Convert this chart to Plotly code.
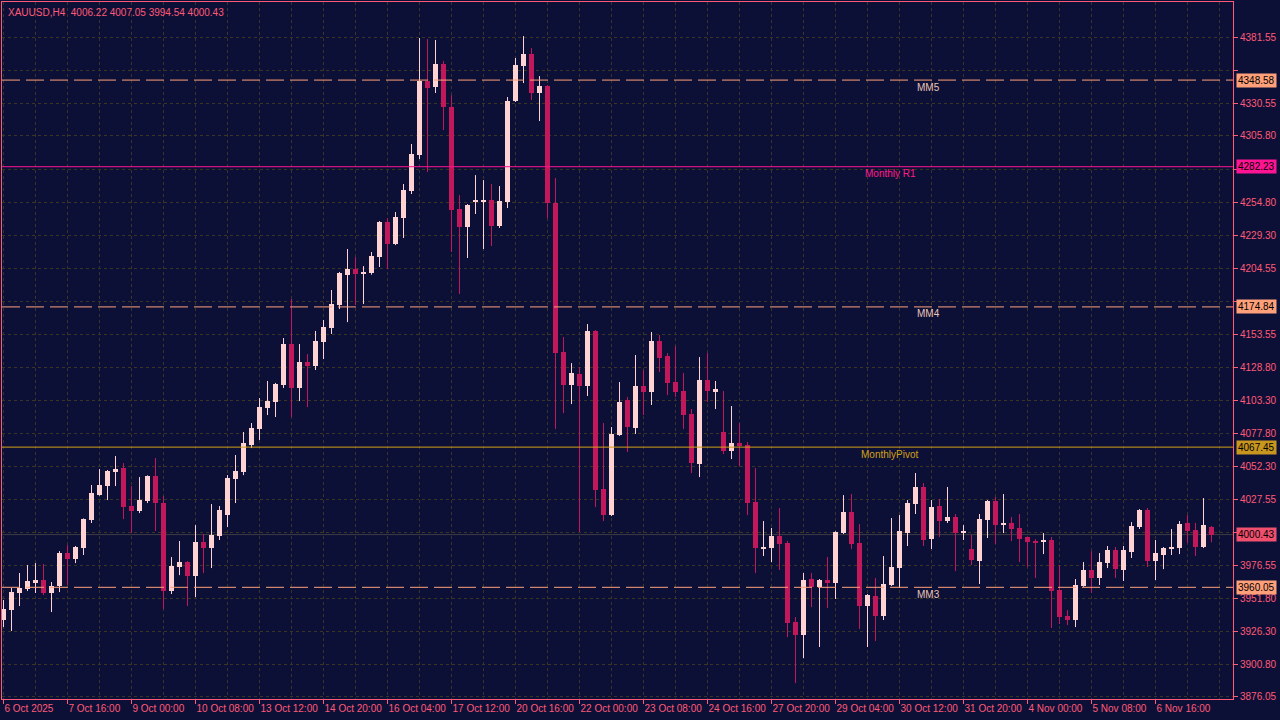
import plotly.graph_objects as go

# ---------------- data ----------------
symbol = "XAUUSD,H4"

opens = [3935.0, 3942.6, 3955.7, 3958.7, 3964.1, 3965.6, 3955.7, 3961.0, 3986.3, 3981.7,
         3990.1, 4011.6, 4030.7, 4037.6, 4048.3, 4051.4, 4022.3, 4018.5, 4026.1, 4045.3,
         4024.6, 3957.2, 3975.6, 3979.4, 3968.7, 3994.7, 3990.1, 3999.3, 4015.4, 4043.0,
         4048.3, 4069.0, 4081.3, 4097.4, 4102.0, 4115.0, 4146.4, 4112.7, 4132.6, 4129.5,
         4147.9, 4158.7, 4176.3, 4199.2, 4203.8, 4200.0, 4200.8, 4213.0, 4239.8, 4223.0,
         4242.9, 4263.6, 4291.2, 4347.9, 4343.2, 4360.9, 4327.9, 4249.8, 4236.0, 4255.9,
         4255.9, 4256.7, 4236.8, 4255.2, 4332.5, 4359.3, 4368.5, 4338.7, 4344.0, 4254.4,
         4140.3, 4115.0, 4123.4, 4114.2, 4156.4, 4035.3, 4015.4, 4076.7, 4103.5, 4082.1,
         4114.2, 4109.6, 4148.7, 4137.2, 4117.3, 4110.4, 4092.8, 4054.5, 4118.8, 4110.4,
         4079.0, 4064.4, 4070.6, 4069.0, 4025.4, 3990.1, 3990.1, 3999.3, 3994.0, 3933.4,
         3923.5, 3966.4, 3960.3, 3965.6, 3963.3, 4001.6, 4017.7, 3994.0, 3945.7, 3953.4,
         3938.0, 3961.8, 3974.8, 4001.6, 4023.8, 4036.9, 3997.0, 4022.3, 4010.8, 4013.9,
         4001.6, 3989.4, 3980.2, 4011.6, 4026.1, 4007.7, 4009.3, 4005.5, 3998.6, 3995.5,
         3994.7, 3996.3, 3958.0, 3938.0, 3935.0, 3961.0, 3973.3, 3967.2, 3978.6, 3988.6,
         3973.3, 3987.1, 4006.2, 4019.2, 3980.2, 3984.8, 3989.4, 3990.1, 4009.3, 4004.0,
         3990.9, 4006.22]

highs = [3950.3, 3959.5, 3971.0, 3977.1, 3978.6, 3977.9, 3964.1, 3987.8, 3992.4, 3991.7,
         4012.8, 4038.4, 4050.6, 4049.9, 4060.6, 4055.2, 4037.6, 4044.5, 4045.8, 4059.1,
         4030.0, 3983.2, 3995.5, 3980.2, 4007.7, 4000.9, 4023.8, 4022.3, 4046.0, 4061.4,
         4079.0, 4085.9, 4105.0, 4118.1, 4116.6, 4151.0, 4180.9, 4146.4, 4138.7, 4156.4,
         4164.8, 4187.8, 4201.6, 4219.2, 4213.0, 4206.1, 4216.9, 4240.6, 4242.9, 4247.5,
         4269.0, 4299.6, 4380.8, 4380.0, 4379.3, 4363.2, 4337.1, 4260.5, 4253.6, 4275.8,
         4272.0, 4269.0, 4267.4, 4335.6, 4365.5, 4382.3, 4373.1, 4351.7, 4344.8, 4273.6,
         4151.8, 4131.8, 4128.8, 4161.7, 4157.1, 4085.9, 4082.8, 4117.3, 4105.8, 4138.0,
         4126.5, 4155.6, 4153.3, 4139.5, 4144.9, 4124.2, 4096.6, 4136.4, 4139.5, 4118.1,
         4110.4, 4098.9, 4085.9, 4071.3, 4051.4, 4010.8, 4005.5, 4020.8, 3995.5, 3937.3,
         3971.0, 3971.0, 3966.4, 3983.2, 4003.0, 4030.7, 4031.5, 4008.5, 3954.9, 3967.2,
         3984.0, 4013.1, 4015.4, 4026.9, 4047.6, 4039.9, 4026.9, 4027.7, 4036.9, 4016.2,
         4007.7, 4000.1, 4016.2, 4026.9, 4029.2, 4031.5, 4013.9, 4016.2, 3998.9, 3997.0,
         4001.6, 3998.6, 3977.1, 3942.6, 3966.4, 3979.4, 3987.8, 3986.3, 3991.7, 3990.9,
         3991.7, 4010.0, 4020.0, 4020.8, 3996.3, 3990.9, 4004.7, 4010.8, 4015.4, 4009.3,
         4028.4, 4007.05]

lows = [3929.6, 3926.6, 3945.7, 3957.2, 3955.7, 3954.1, 3941.1, 3956.4, 3961.8, 3978.6,
        3984.8, 4009.3, 4030.2, 4026.9, 4037.6, 4012.3, 4001.6, 4016.9, 4024.6, 4003.2,
        3943.4, 3954.9, 3969.4, 3945.7, 3952.6, 3971.0, 3974.8, 3996.3, 4006.2, 4024.6,
        4046.0, 4066.7, 4072.9, 4092.0, 4090.5, 4112.7, 4090.5, 4102.7, 4098.1, 4126.5,
        4134.9, 4154.1, 4173.2, 4163.2, 4176.3, 4177.0, 4199.5, 4205.4, 4203.8, 4222.2,
        4227.6, 4261.3, 4288.1, 4278.1, 4338.7, 4310.3, 4216.9, 4184.7, 4212.3, 4246.0,
        4219.2, 4221.5, 4235.3, 4250.6, 4331.8, 4346.3, 4333.3, 4317.2, 4242.9, 4081.3,
        4093.5, 4100.4, 4002.4, 4106.6, 4021.5, 4010.8, 4014.6, 4076.0, 4063.7, 4077.5,
        4092.0, 4099.7, 4124.9, 4107.3, 4105.8, 4081.3, 4047.6, 4044.5, 4102.0, 4096.6,
        4062.1, 4058.3, 4052.9, 4015.4, 3971.0, 3984.0, 3979.4, 3973.3, 3922.0, 3886.7,
        3905.9, 3944.9, 3914.3, 3944.2, 3951.1, 4000.9, 3989.4, 3928.1, 3914.3, 3918.9,
        3935.0, 3961.0, 3959.5, 3991.7, 4016.2, 3991.7, 3989.4, 3998.6, 4009.3, 3972.5,
        3996.3, 3977.1, 3962.6, 3997.8, 3993.2, 4001.6, 3995.5, 3979.4, 3975.6, 3967.2,
        3985.5, 3928.9, 3931.9, 3931.1, 3929.6, 3960.5, 3955.7, 3961.8, 3974.8, 3967.2,
        3964.9, 3982.5, 4004.7, 3975.6, 3965.6, 3974.0, 3984.8, 3985.5, 3994.0, 3984.0,
        3990.1, 3994.54]

closes = [3943.4, 3956.4, 3959.5, 3964.9, 3965.6, 3955.7, 3961.0, 3986.3, 3981.7, 3990.9,
          4012.3, 4032.3, 4038.4, 4049.1, 4050.6, 4021.5, 4018.5, 4026.9, 4045.3, 4024.6,
          3957.2, 3976.3, 3979.4, 3968.7, 3994.7, 3990.1, 4000.1, 4019.2, 4043.8, 4049.1,
          4070.6, 4082.1, 4098.1, 4102.7, 4115.8, 4146.4, 4112.7, 4132.6, 4129.5, 4148.7,
          4159.4, 4177.0, 4200.8, 4203.8, 4200.0, 4201.6, 4213.8, 4239.8, 4223.0, 4243.7,
          4264.4, 4291.9, 4347.9, 4342.5, 4360.9, 4327.9, 4249.0, 4236.0, 4252.9, 4256.7,
          4256.7, 4236.8, 4255.9, 4332.5, 4360.1, 4368.5, 4338.7, 4344.0, 4254.4, 4139.5,
          4115.0, 4124.2, 4114.2, 4156.4, 4034.6, 4015.4, 4077.5, 4102.0, 4082.8, 4114.2,
          4109.6, 4148.7, 4135.7, 4116.5, 4109.6, 4092.0, 4055.2, 4118.8, 4110.4, 4111.9,
          4064.4, 4070.6, 4068.3, 4024.6, 3990.1, 3990.9, 3999.3, 3993.2, 3932.7, 3923.5,
          3965.6, 3960.3, 3965.6, 3963.3, 4002.4, 4017.7, 3993.2, 3945.7, 3954.1, 3938.0,
          3962.6, 3975.6, 4003.2, 4024.6, 4036.9, 3996.3, 4021.5, 4010.8, 4013.9, 4001.6,
          4003.2, 3980.9, 4012.3, 4026.1, 4007.7, 4009.3, 4004.7, 3997.0, 3994.7, 3994.0,
          3996.3, 3957.2, 3937.3, 3935.0, 3961.8, 3973.3, 3967.2, 3979.4, 3988.6, 3974.0,
          3988.6, 4007.0, 4019.2, 3980.2, 3986.3, 3990.1, 3990.9, 4008.5, 4003.2, 3990.9,
          4007.7, 4000.43]

time_labels = ["6 Oct 2025", "7 Oct 16:00", "9 Oct 00:00", "10 Oct 08:00", "13 Oct 12:00",
               "14 Oct 20:00", "16 Oct 04:00", "17 Oct 12:00", "20 Oct 16:00", "22 Oct 00:00",
               "23 Oct 08:00", "24 Oct 16:00", "27 Oct 20:00", "29 Oct 04:00", "30 Oct 12:00",
               "31 Oct 20:00", "4 Nov 00:00", "5 Nov 08:00", "6 Nov 16:00"]
label_every = 8

price_ticks = [4381.55, 4356.05, 4330.55, 4305.80, 4280.30, 4254.80, 4229.30, 4204.55,
               4179.05, 4153.55, 4128.80, 4103.30, 4077.80, 4052.30, 4027.55, 4002.05,
               3976.55, 3951.80, 3926.30, 3900.80, 3876.05]

level_names = ["MM5", "Monthly R1", "MM4", "MonthlyPivot", "MM3"]
level_values = [4348.58, 4282.23, 4174.84, 4067.45, 3960.05]

# ---------------- styles ----------------
BG = "#0d1036"
PINK = "#ff5a78"
GRID = "#3b3526"
BULL = "#ffd3d3"
BEAR = "#c2185b"
FONT = "Liberation Sans"

level_styles = {
    "MM5": dict(color="#ffa07a", dash="18px,6px", width=1, box="#ffa07a", tx=0.753),
    "Monthly R1": dict(color="#ff1493", dash="solid", width=1, box="#ff1493", tx=0.7214),
    "MM4": dict(color="#ffa07a", dash="18px,6px", width=1, box="#ffa07a", tx=0.753),
    "MonthlyPivot": dict(color="#d4a017", dash="solid", width=1, box="#c8961e", tx=0.7206),
    "MM3": dict(color="#ffa07a", dash="18px,6px", width=1, box="#ffa07a", tx=0.753),
}
label_colors = {"MM5": "#e8c4b8", "MM4": "#e8c4b8", "MM3": "#e8c4b8",
                "Monthly R1": "#ff1a8c", "MonthlyPivot": "#d4a017"}

n = len(opens)
idx = list(range(n))

# price-axis labels that sit under a level / price box are left blank (their grid stays)
box_values = level_values + [closes[-1]]
tick_text = ["" if min(abs(v - b) for b in box_values) < 7.5 else f"{v:.2f}" for v in price_ticks]

fig = go.Figure()

# wicks
for bull in (True, False):
    xs, ys = [], []
    for i in idx:
        if (closes[i] >= opens[i]) == bull:
            xs += [i, i, None]
            ys += [lows[i], highs[i], None]
    fig.add_trace(go.Scatter(x=xs, y=ys, mode="lines",
                             line=dict(color=BULL if bull else BEAR, width=1),
                             hoverinfo="skip", showlegend=False))

# bodies
for bull in (True, False):
    bx, bb, bh = [], [], []
    for i in idx:
        if (closes[i] >= opens[i]) == bull:
            bx.append(i)
            bb.append(min(opens[i], closes[i]))
            bh.append(max(abs(closes[i] - opens[i]), 0.8))
    fig.add_trace(go.Bar(x=bx, base=bb, y=bh, width=0.625,
                         marker=dict(color=BULL if bull else BEAR, line=dict(width=0)),
                         hoverinfo="skip", showlegend=False))

shapes = []
annotations = []

# bid line
shapes.append(dict(type="line", xref="paper", x0=0, x1=1, yref="y",
                   y0=closes[-1], y1=closes[-1], layer="between",
                   line=dict(color="#3e3d44", width=1)))

for name, val in zip(level_names, level_values):
    st = level_styles[name]
    shapes.append(dict(type="line", xref="paper", x0=0, x1=1, yref="y", y0=val, y1=val,
                       layer="above", line=dict(color=st["color"], width=st["width"], dash=st["dash"])))
    annotations.append(dict(x=st["tx"], xref="paper", y=val, yref="y", text=name,
                            showarrow=False, xanchor="center", yanchor="middle", yshift=-7,
                            font=dict(family=FONT, size=10, color=label_colors[name])))
    annotations.append(dict(x=1, xref="paper", y=val, yref="y", text=f"{val:.2f}",
                            showarrow=False, xanchor="left", yanchor="middle", xshift=3,
                            bgcolor=st["box"], borderpad=1,
                            font=dict(family=FONT, size=10, color="#000000")))

# current price box
annotations.append(dict(x=1, xref="paper", y=closes[-1], yref="y", text=f"{closes[-1]:.2f}",
                        showarrow=False, xanchor="left", yanchor="middle", xshift=3,
                        bgcolor="#f0506e", borderpad=1,
                        font=dict(family=FONT, size=10, color="#000000")))

# title
title_txt = f"{symbol}\u00a0\u00a0{opens[-1]:.2f} {highs[-1]:.2f} {lows[-1]:.2f} {closes[-1]:.2f}"
annotations.append(dict(x=0, xref="paper", y=1, yref="paper", text=title_txt,
                        showarrow=False, xanchor="left", yanchor="top", xshift=4, yshift=-3,
                        font=dict(family=FONT, size=10, color=PINK)))

fig.update_layout(
    width=1280, height=720, autosize=False,
    margin=dict(l=2, r=47, t=2, b=21, pad=0),
    paper_bgcolor=BG, plot_bgcolor=BG,
    barmode="overlay", bargap=0,
    showlegend=False,
    shapes=shapes, annotations=annotations,
    xaxis=dict(
        range=[-0.1875, 153.6875], tickmode="array",
        tickvals=list(range(0, n, label_every))[:len(time_labels)], ticktext=time_labels,
        ticks="outside", ticklen=4, tickcolor=PINK, tickwidth=1, tickangle=0,
        ticklabelposition="outside right", automargin=False,
        showline=True, linecolor=PINK, linewidth=1, mirror=True,
        showgrid=True, gridcolor=GRID, gridwidth=1, griddash="3px,3px",
        minor=dict(dtick=label_every // 2, tick0=0, showgrid=True, gridcolor=GRID,
                   gridwidth=1, griddash="3px,3px", ticks=""),
        zeroline=False, fixedrange=True,
        tickfont=dict(family=FONT, size=10, color=PINK),
    ),
    yaxis=dict(
        side="right", range=[3874.5, 4408.4], tickmode="array",
        tickvals=price_ticks, ticktext=tick_text, automargin=False,
        ticks="outside", ticklen=4, tickcolor=PINK, tickwidth=1,
        showline=True, linecolor=PINK, linewidth=1, mirror=True,
        showgrid=True, gridcolor=GRID, gridwidth=1, griddash="3px,3px",
        zeroline=False, fixedrange=True,
        tickfont=dict(family=FONT, size=10, color=PINK),
    ),
)

fig.write_html("out.html", config={"displayModeBar": False},
               post_script="document.body.style.margin='0';document.body.style.background='#0d1036';")
